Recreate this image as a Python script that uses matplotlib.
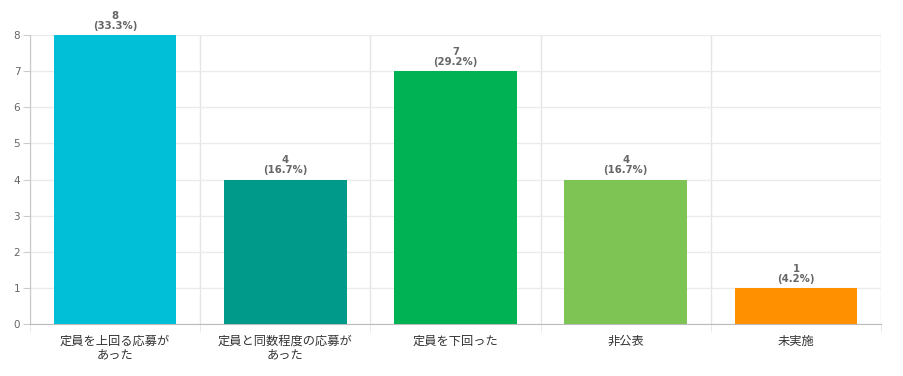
import matplotlib
matplotlib.use("Agg")
import matplotlib.pyplot as plt
from matplotlib.ticker import FixedLocator

plt.rcParams['font.family'] = ['Noto Sans CJK JP', 'DejaVu Sans']

categories = ["定員を上回る応募が\nあった", "定員と同数程度の応募が\nあった", "定員を下回った", "非公表", "未実施"]
values = [8, 4, 7, 4, 1]
percents = ["33.3%", "16.7%", "29.2%", "16.7%", "4.2%"]
colors = ["#00BFD6", "#009A8B", "#00B254", "#7EC454", "#FF9100"]
yticks = [0, 1, 2, 3, 4, 5, 6, 7, 8]

fig = plt.figure(figsize=(9.04, 3.76), dpi=100)
ax = fig.add_axes([30/904, 1-324/376, 851/904, (324-35)/376])

x = list(range(len(categories)))
ax.bar(x, values, width=0.72, color=colors, zorder=3)
for xi, v, p in zip(x, values, percents):
    ax.text(xi, v + 0.12, f"{v}\n({p})", ha='center', va='bottom', fontsize=7.3,
            fontweight='bold', color='#666666', linespacing=1.0, family=['DejaVu Sans'])

ax.set_xlim(-0.5, len(categories) - 0.5)
ax.set_ylim(0, 8)
ax.set_yticks(yticks)
ax.set_xticks(x)
ax.set_xticklabels(categories, fontsize=8.8, color='#333333', linespacing=1.05)
ax.xaxis.set_minor_locator(FixedLocator([i - 0.5 for i in range(len(categories) + 1)]))
ax.tick_params(axis='x', which='major', length=0, pad=8)
ax.tick_params(axis='x', which='minor', length=6, color='#e5e5e5')
ax.tick_params(axis='y', length=5, color='#cccccc', labelsize=7.5, labelcolor='#666666', pad=2)
ax.grid(True, axis='y', color='#ebebeb', linewidth=1, zorder=0)
ax.grid(True, axis='x', which='minor', color='#e5e5e5', linewidth=1, zorder=0)
for s in ['top', 'right']:
    ax.spines[s].set_visible(False)
ax.spines['left'].set_color('#c8c8c8')
ax.spines['bottom'].set_color('#bbbbbb')
for lab in ax.get_yticklabels():
    lab.set_family(['DejaVu Sans'])

fig.savefig("out.png", dpi=100)
